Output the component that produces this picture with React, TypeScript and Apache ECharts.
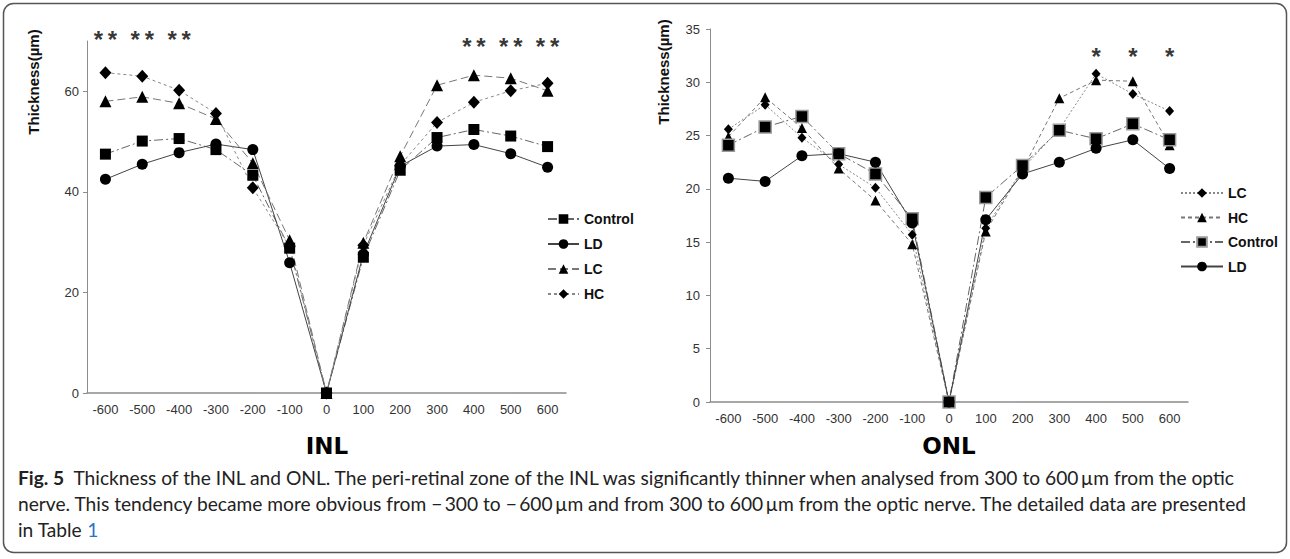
import React, { useEffect, useRef } from "react";
import * as echarts from "echarts";

// ---------- data ----------
const positions = ["-600", "-500", "-400", "-300", "-200", "-100", "0", "100", "200", "300", "400", "500", "600"];

// INL thickness (µm)
const inlControl = [47.5, 50.1, 50.6, 48.4, 43.3, 28.8, 0, 27.0, 44.3, 50.8, 52.4, 51.1, 49.0];
const inlLD = [42.5, 45.5, 47.8, 49.5, 48.4, 25.9, 0, 27.6, 45.1, 49.1, 49.4, 47.6, 44.9];
const inlLC = [58.0, 58.9, 57.6, 54.5, 45.7, 30.4, 0, 29.9, 47.1, 61.2, 63.2, 62.6, 60.1];
const inlHC = [63.7, 63.0, 60.2, 55.6, 40.8, 29.1, 0, 29.4, 45.3, 53.8, 57.8, 60.1, 61.6];

// ONL thickness (µm)
const onlLC = [25.6, 27.9, 24.8, 22.3, 20.1, 15.7, 0, 16.3, 21.9, 25.6, 30.8, 28.9, 27.3];
const onlHC = [24.9, 28.6, 25.7, 21.9, 18.9, 14.8, 0, 16.0, 21.8, 28.5, 30.2, 30.1, 24.1];
const onlControl = [24.1, 25.8, 26.8, 23.3, 21.4, 17.2, 0, 19.2, 22.2, 25.5, 24.7, 26.1, 24.6];
const onlLD = [21.0, 20.7, 23.1, 23.3, 22.5, 16.8, 0, 17.1, 21.4, 22.5, 23.8, 24.6, 21.9];

// significance marks
const inlStarsLeft = ["-600", "-500", "-400"];
const inlStarsRight = ["400", "500", "600"];
const onlStars = ["400", "500", "600"];

const inlTicks = { min: 0, max: 70, interval: 20 };
const onlTicks = { min: 0, max: 35, interval: 5 };

const captionLines = [
  "{b|Fig. 5}  Thickness of the INL and ONL. The peri-retinal zone of the INL was significantly thinner when analysed from 300 to 600\u2009\u00b5m from the optic",
  "nerve. This tendency became more obvious from \u2212\u2009300 to \u2212\u2009600\u2009\u00b5m and from 300 to 600\u2009\u00b5m from the optic nerve. The detailed data are presented",
  "in Table {l|1}",
];

const FONT = "Liberation Sans, Arial, sans-serif";
const CAP_FONT = "Lato, 'Open Sans', sans-serif";
const CAP_SIZE = 19.2;

export default function App() {
  const ref = useRef<HTMLDivElement>(null);

  useEffect(() => {
    if (!ref.current) return;
    const chart = echarts.init(ref.current, undefined, { renderer: "svg" });

    const dashDot = [9, 3, 2, 3];
    const mkLine = (
      name: string,
      data: number[],
      idx: number,
      symbol: string,
      size: number | number[],
      type: any,
      color: string,
      extraItem: any = {}
    ) => ({
      name,
      type: "line",
      xAxisIndex: idx,
      yAxisIndex: idx,
      data,
      symbol,
      symbolSize: size,
      showSymbol: true,
      itemStyle: { color: "#000", ...extraItem },
      lineStyle: { color, width: 1, type },
      z: 3,
    });

    const starSeries = (cats: string[], value: number, idx: number, text: string) => ({
      type: "scatter",
      xAxisIndex: idx,
      yAxisIndex: idx,
      data: cats.map((c) => [c, value]),
      symbolSize: 0,
      clip: false,
      silent: true,
      label: {
        show: true,
        position: "inside",
        formatter: text,
        fontSize: 24,
        fontWeight: "bold",
        fontFamily: FONT,
        color: "#000",
      },
      z: 5,
    });

    const xAx = (gridIndex: number) => ({
      gridIndex,
      type: "category",
      data: positions,
      boundaryGap: true,
      axisTick: { show: false },
      axisLine: { lineStyle: { color: "#8c8c8c", width: 1.5 } },
      axisLabel: { color: "#333", fontSize: 13, margin: 10, fontFamily: FONT, interval: 0 },
      splitLine: { show: false },
    });
    const yAx = (gridIndex: number, t: any, margin: number) => ({
      gridIndex,
      type: "value",
      min: t.min,
      max: t.max,
      interval: t.interval,
      splitLine: { show: false },
      axisLine: { show: true, lineStyle: { color: "#8c8c8c", width: 1 } },
      axisTick: { show: true, length: 4, lineStyle: { color: "#8c8c8c" } },
      axisLabel: { color: "#333", fontSize: 13, margin, fontFamily: FONT, showMaxLabel: gridIndex === 1 },
    });

    const legendText = { fontSize: 14, fontWeight: "bold", fontFamily: FONT, color: "#111" };

    const yName = (x: number, y: number) => ({
      type: "text",
      x,
      y,
      rotation: Math.PI / 2,
      style: {
        text: "Thickness(\u00b5m)",
        fontSize: 15,
        fontWeight: "bold",
        fontFamily: FONT,
        fill: "#111",
        align: "center",
        verticalAlign: "middle",
      },
    });
    const title = (x: number, text: string) => ({
      type: "text",
      x,
      y: 446,
      style: {
        text,
        fontSize: 23,
        fontWeight: "bold",
        fontFamily: "DejaVu Sans",
        fill: "#000",
        align: "center",
        verticalAlign: "middle",
      },
    });

    chart.setOption({
      animation: false,
      backgroundColor: "#fff",
      grid: [
        { left: 87, top: 41, width: 479, height: 352 },
        { left: 710, top: 29, width: 478, height: 373 },
      ],
      xAxis: [xAx(0), xAx(1)],
      yAxis: [yAx(0, inlTicks, 8), yAx(1, onlTicks, 10)],
      legend: [
        {
          orient: "vertical",
          left: 542,
          top: 207,
          itemWidth: 31,
          itemHeight: 12,
          itemGap: 11,
          data: ["Control", "LD", "LC", "HC"],
          textStyle: legendText,
        },
        {
          orient: "vertical",
          left: 1175,
          top: 181,
          itemWidth: 42,
          itemHeight: 12,
          itemGap: 10.5,
          data: ["ONL LC", "ONL HC", "ONL Control", "ONL LD"],
          formatter: (n: string) => n.replace("ONL ", ""),
          textStyle: legendText,
        },
      ],
      series: [
        mkLine("Control", inlControl, 0, "rect", 11, dashDot, "#666"),
        mkLine("LD", inlLD, 0, "circle", 11, "solid", "#444"),
        mkLine("LC", inlLC, 0, "triangle", 12, [8, 4], "#777"),
        mkLine("HC", inlHC, 0, "diamond", [12, 13], [3, 3], "#888"),
        mkLine("ONL LC", onlLC, 1, "diamond", [9, 10], [2, 2], "#888"),
        mkLine("ONL HC", onlHC, 1, "triangle", 10, [4, 3], "#777"),
        mkLine("ONL Control", onlControl, 1, "rect", 12, dashDot, "#666", {
          borderColor: "#9a9a9a",
          borderWidth: 1.5,
        }),
        mkLine("ONL LD", onlLD, 1, "circle", 11, "solid", "#444"),
        starSeries(inlStarsLeft, 70.3, 0, "*\u2009*"),
        starSeries(inlStarsRight, 68.9, 0, "*\u2009*"),
        starSeries(onlStars, 32.4, 1, "*"),
      ],
      graphic: [
        {
          type: "rect",
          shape: { x: 3.5, y: 3.5, width: 1283, height: 549, r: 10 },
          style: { fill: "none", stroke: "#555", lineWidth: 1.5 },
          silent: true,
        },
        yName(33, 82),
        yName(663, 72),
        title(327, "INL"),
        title(949, "ONL"),
        ...captionLines.map((t, i) => ({
          type: "text",
          x: 18,
          y: 477 + i * 26,
          style: {
            text: t,
            fontSize: CAP_SIZE,
            fontFamily: CAP_FONT,
            fill: "#222",
            verticalAlign: "middle",
            rich: {
              b: { fontSize: CAP_SIZE, fontWeight: "bold", fontFamily: CAP_FONT, fill: "#222" },
              l: { fontSize: CAP_SIZE, fontFamily: CAP_FONT, fill: "#2f6fc4" },
            },
          },
        })),
      ],
    });

    return () => chart.dispose();
  }, []);

  return (
    <div
      ref={ref}
      style={{ position: "absolute", left: 0, top: 0, width: 1290, height: 559, background: "#fff" }}
    />
  );
}
